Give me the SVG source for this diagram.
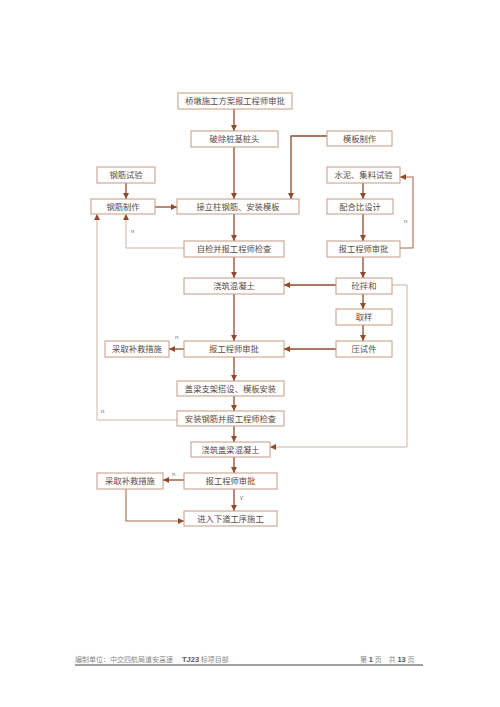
<svg xmlns="http://www.w3.org/2000/svg" width="500" height="707" viewBox="0 0 500 707">
<style>
.box rect{fill:#fff;stroke:#c49a84;stroke-width:1}
.box text{font-family:"Noto Sans CJK SC","Liberation Sans",sans-serif;font-size:8.3px;fill:#5a4a44;text-anchor:middle}
.d{fill:none;stroke:#8e4b2e;stroke-width:1.3}
.l{fill:none;stroke:#cfb3a3;stroke-width:1}
.m{fill:none;stroke:#a9694d;stroke-width:1.1}
.lab{font-family:"Liberation Sans",sans-serif;font-size:6px;fill:#666}
.ft{font-family:"Liberation Serif","Noto Sans CJK SC",serif;font-size:7px;fill:#888}
.fb{font-family:"Liberation Sans",sans-serif;font-size:7.5px;font-weight:bold;fill:#555}
</style>
<defs>
<marker id="ar" markerUnits="userSpaceOnUse" markerWidth="6" markerHeight="6" refX="6" refY="3" orient="auto">
<path d="M0,0 L6,3 L0,6 z" fill="#8e4b2e"/>
</marker>
</defs>
<rect width="500" height="707" fill="#fff"/>
<g id="connectors" marker-end="url(#ar)">
<path class="d" d="M234,109 V131"/>
<path class="d" d="M234,147 V199"/>
<path class="d" d="M327,136 H291 V199"/>
<path class="d" d="M126,183 V199"/>
<path class="d" d="M155,207 H177"/>
<path class="d" d="M234,214 V241"/>
<path class="d" d="M363,183 V199"/>
<path class="d" d="M363,214 V241"/>
<path class="l" d="M184,248 H126 V214"/>
<path class="m" d="M400,248 H413 V177 H400"/>
<path class="d" d="M234,257 V278"/>
<path class="d" d="M363,257 V278"/>
<path class="d" d="M336,285 H284"/>
<path class="l" d="M392,285 H407 V447 H270"/>
<path class="d" d="M363,294 V309"/>
<path class="d" d="M363,325 V341"/>
<path class="d" d="M336,349 H284"/>
<path class="d" d="M184,349 H169"/>
<path class="d" d="M234,294 V341"/>
<path class="d" d="M234,357 V381"/>
<path class="d" d="M234,396 V411"/>
<path class="d" d="M234,426 V442"/>
<path class="l" d="M177,420 H97 V214"/>
<path class="d" d="M234,457 V473"/>
<path class="d" d="M184,480 H163"/>
<path class="d" d="M234,489 V511"/>
<path class="m" d="M126,489 V521 H184"/>
</g>
<g id="labels">
<text class="lab" x="131" y="233">n</text>
<text class="lab" x="404" y="223">n</text>
<text class="lab" x="175" y="339">n</text>
<text class="lab" x="101" y="413">n</text>
<text class="lab" x="172" y="476">n</text>
<text class="lab" x="240" y="499">y</text>
</g>
<g id="n1" class="box"><rect x="178" y="93" width="114" height="16"/><text x="235" y="104">桥墩施工方案报工程师审批</text></g>
<g id="n2" class="box"><rect x="191" y="131" width="87" height="16"/><text x="234.5" y="142">破除桩基桩头</text></g>
<g id="n3" class="box"><rect x="327" y="131" width="65" height="15"/><text x="359.5" y="141.5">模板制作</text></g>
<g id="n4" class="box"><rect x="97" y="167" width="58" height="16"/><text x="126" y="178">钢筋试验</text></g>
<g id="n5" class="box"><rect x="327" y="167" width="73" height="16"/><text x="363.5" y="178">水泥、集料试验</text></g>
<g id="n6" class="box"><rect x="91" y="199" width="64" height="15"/><text x="123" y="209.5">钢筋制作</text></g>
<g id="n7" class="box"><rect x="177" y="199" width="122" height="15"/><text x="238" y="209.5">接立柱钢筋、安装模板</text></g>
<g id="n8" class="box"><rect x="327" y="199" width="66" height="15"/><text x="360" y="209.5">配合比设计</text></g>
<g id="n9" class="box"><rect x="184" y="241" width="100" height="16"/><text x="234" y="252">自检并报工程师检查</text></g>
<g id="n10" class="box"><rect x="327" y="241" width="73" height="16"/><text x="363.5" y="252">报工程师审批</text></g>
<g id="n11" class="box"><rect x="184" y="278" width="100" height="16"/><text x="234" y="289">浇筑混凝土</text></g>
<g id="n12" class="box"><rect x="336" y="278" width="56" height="16"/><text x="364" y="289">砼拌和</text></g>
<g id="n13" class="box"><rect x="336" y="309" width="56" height="16"/><text x="364" y="320">取样</text></g>
<g id="n14" class="box"><rect x="105" y="341" width="64" height="16"/><text x="137" y="352">采取补救措施</text></g>
<g id="n15" class="box"><rect x="184" y="341" width="100" height="16"/><text x="234" y="352">报工程师审批</text></g>
<g id="n16" class="box"><rect x="336" y="341" width="56" height="16"/><text x="364" y="352">压试件</text></g>
<g id="n17" class="box"><rect x="177" y="381" width="107" height="15"/><text x="230.5" y="391.5">盖梁支架搭设、模板安装</text></g>
<g id="n18" class="box"><rect x="177" y="411" width="107" height="15"/><text x="230.5" y="421.5">安装钢筋并报工程师检查</text></g>
<g id="n19" class="box"><rect x="191" y="442" width="79" height="15"/><text x="230.5" y="452.5">浇筑盖梁混凝土</text></g>
<g id="n20" class="box"><rect x="97" y="473" width="66" height="16"/><text x="130" y="484">采取补救措施</text></g>
<g id="n21" class="box"><rect x="184" y="473" width="93" height="16"/><text x="230.5" y="484">报工程师审批</text></g>
<g id="n22" class="box"><rect x="184" y="511" width="93" height="15"/><text x="230.5" y="521.5">进入下道工序施工</text></g>
<g id="footer">
<text class="ft" x="75" y="662">编制单位：中交四航局道安高速</text>
<text x="182" y="662"><tspan class="fb">TJ23</tspan><tspan class="ft"> 标项目部</tspan></text>
<text x="360" y="662"><tspan class="ft">第 </tspan><tspan class="fb">1</tspan><tspan class="ft"> 页　共 </tspan><tspan class="fb">13</tspan><tspan class="ft"> 页</tspan></text>
<line x1="75" y1="665" x2="423" y2="665" stroke="#a0a0a0" stroke-width="1.8"/>
</g>
</svg>
